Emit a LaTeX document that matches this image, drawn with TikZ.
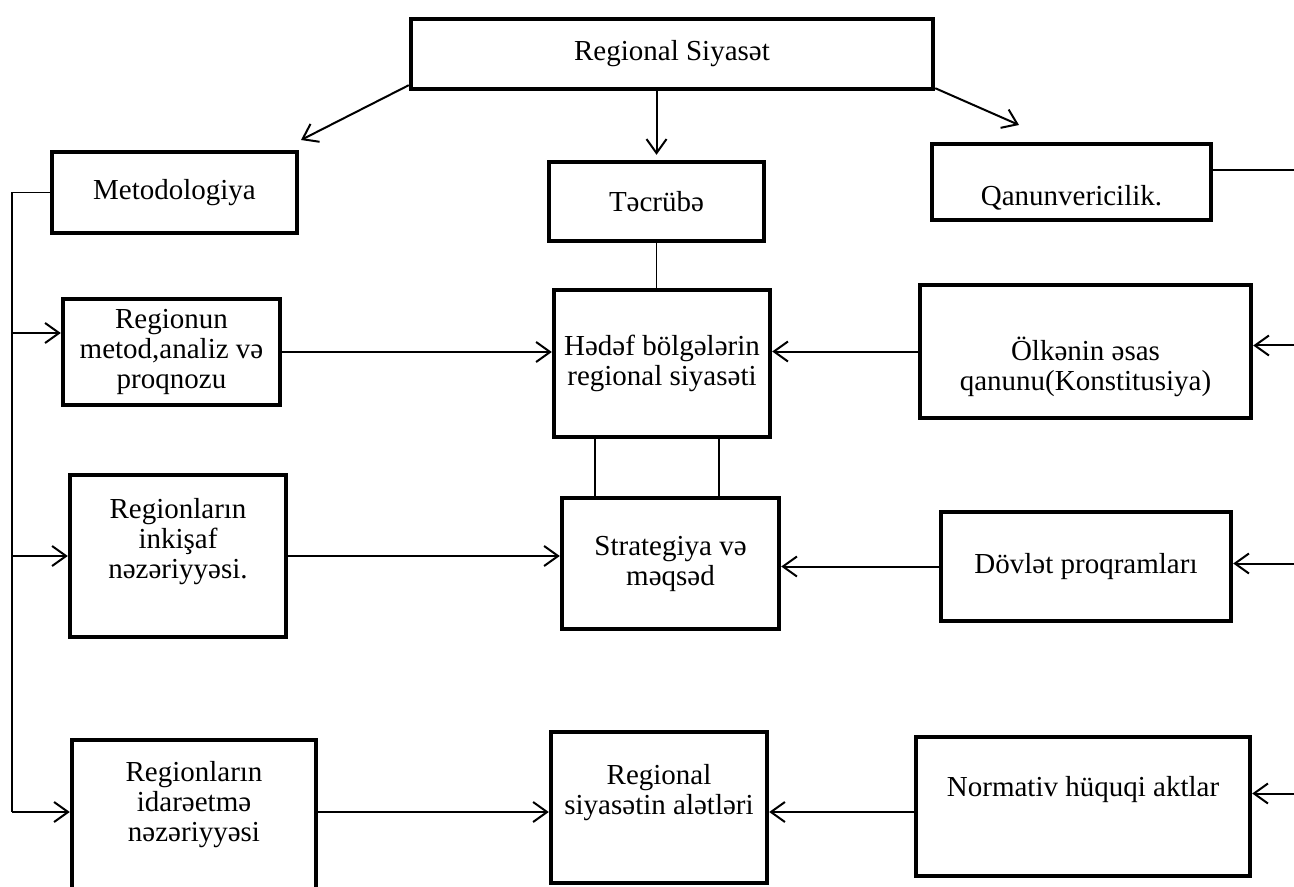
\documentclass[tikz,border=0pt]{standalone}
\usepackage{fontspec}
\setmainfont{Liberation Serif}
\usetikzlibrary{arrows.meta}

\begin{document}
\begin{tikzpicture}[x=0.5pt,y=-0.5pt,
    font=\fontsize{14.5}{15}\selectfont,
    >={Straight Barb[length=7pt,width=10pt]},
    box/.style={draw,rectangle,line width=2.2pt,align=center,inner sep=2pt},
    arr/.style={->,line width=1pt},
    thin/.style={line width=0.65pt}]
  \useasboundingbox (0,0) rectangle (1294,887);
  \clip (0,0) rectangle (1294,887);
  % top
  \node[box,minimum width=261pt,minimum height=35pt] (reg) at (672,54) {Regional Siyas\char"0259t};
  \node[box,minimum width=122.5pt,minimum height=40.5pt] (met) at (174.5,192.5) {Metodologiya};
  \node[box,minimum width=107.5pt,minimum height=39.5pt] (tec) at (656.5,201.5) {T\char"0259cr\"ub\char"0259};
  \node[box,minimum width=139.5pt,minimum height=38pt,
    label={[align=center,yshift=-8pt]center:Qanunvericilik.}] (qan) at (1071.5,182) {};
  % middle rows
  \node[box,minimum width=108.5pt,minimum height=53pt] (rmet) at (171.5,352) {Regionun\\metod,analiz v\char"0259\\proqnozu};
  \node[box,minimum width=108pt,minimum height=73.5pt] (hed) at (662,363.5) {H\char"0259d\char"0259f b\"olg\char"0259l\char"0259rin\\regional siyas\char"0259ti};
  \node[box,minimum width=165.5pt,minimum height=66.5pt,
    label={[align=center,yshift=-7.5pt]center:\"Olk\char"0259nin \char"0259sas\\qanunu(Konstitusiya)}] (olk) at (1085.5,351.5) {};
  \node[box,minimum width=108pt,minimum height=81pt,
    label={[align=center,yshift=7pt]center:Regionlar\i n\\inki\c{s}af\\n\char"0259z\char"0259riyy\char"0259si.}] (rink) at (178,556) {};
  \node[box,minimum width=108.5pt,minimum height=65.5pt] (str) at (670.5,563.5) {Strategiya v\char"0259\\m\char"0259qs\char"0259d};
  \node[box,minimum width=145pt,minimum height=54.5pt] (dov) at (1086,566.5) {D\"ovl\char"0259t proqramlar\i};
  % bottom row
  \node[box,minimum width=122pt,minimum height=84pt,
    label={[align=center,yshift=9.5pt]center:Regionlar\i n\\idar\char"0259etm\char"0259\\n\char"0259z\char"0259riyy\char"0259si}] (rida) at (194,824) {};
  \node[box,minimum width=108pt,minimum height=75.5pt,
    label={[align=center,yshift=7.25pt]center:Regional\\siyas\char"0259tin al\char"0259tl\char"0259ri}] (ral) at (659,807.5) {};
  \node[box,minimum width=167pt,minimum height=69.5pt,
    label={[align=center,yshift=8.25pt]center:Normativ h\"uquqi aktlar}] (nor) at (1083,806.5) {};
  % free ends
  \coordinate (mtip) at (301,140);
  \coordinate (qtip) at (1019,125);
  \coordinate (trunk) at (12,812);
  \coordinate (rx) at (1320,0);
  % connectors from the top
  \draw[arr] ([yshift=3pt]reg.south west) -- (mtip);
  \draw[arr] (tec.north |- reg.south) -- ([yshift=2.5pt]tec.north);
  \draw[arr] ([yshift=1.5pt]reg.south east) -- (qtip);
  \draw[thin] (tec.south) -- (tec.south |- hed.north);
  \draw[thin] ([xshift=-33.5pt]hed.south) -- ([xshift=-33.5pt]hed.south |- str.north);
  \draw[thin] ([xshift=28.5pt]hed.south) -- ([xshift=28.5pt]hed.south |- str.north);
  \draw[thin] ([yshift=6pt]qan.east) -- ([yshift=6pt]qan.east -| rx);
  % left side
  \draw[thin] (met.west) -| (trunk);
  \draw[arr] ([yshift=9.5pt]rmet.west -| trunk) -- ([yshift=9.5pt]rmet.west);
  \draw[arr] (rink.west -| trunk) -- (rink.west);
  \draw[arr] (trunk) -- (trunk -| rida.west);
  \draw[arr] (rmet.east) -- (rmet.east -| hed.west);
  \draw[arr] (rink.east) -- (rink.east -| str.west);
  \draw[arr] (trunk -| rida.east) -- (trunk -| ral.west);
  % right side
  \draw[arr] (olk.west) -- (olk.west -| hed.east);
  \draw[arr] (dov.west) -- (dov.west -| str.east);
  \draw[arr] (trunk -| nor.west) -- (trunk -| ral.east);
  \draw[arr] ([yshift=3pt]olk.east -| rx) -- ([yshift=3pt]olk.east);
  \draw[arr] ([yshift=1.5pt]dov.east -| rx) -- ([yshift=1.5pt]dov.east);
  \draw[arr] ([yshift=6.5pt]nor.east -| rx) -- ([yshift=6.5pt]nor.east);
\end{tikzpicture}
\end{document}
